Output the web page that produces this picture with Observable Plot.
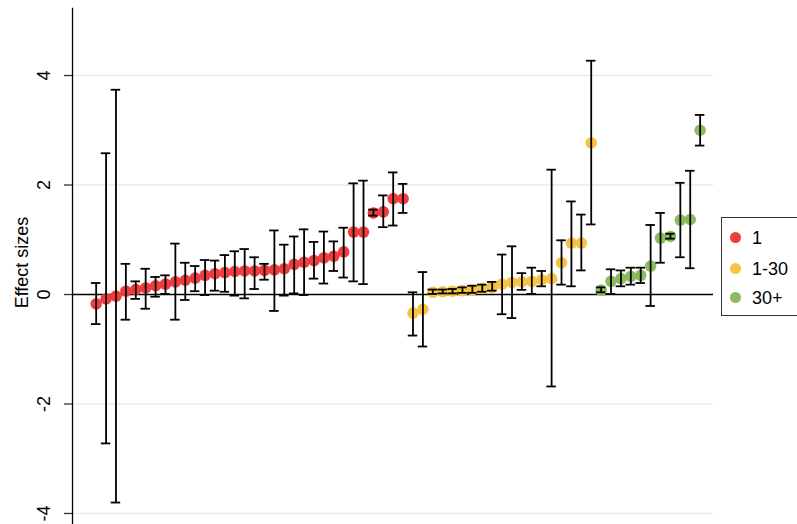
<!DOCTYPE html>
<html>
<head>
<meta charset="utf-8">
<script src="https://cdn.jsdelivr.net/npm/d3@7"></script>
<script src="https://cdn.jsdelivr.net/npm/@observablehq/plot@0.6"></script>
<style>
  html, body { margin: 0; padding: 0; background: #fff; }
  #wrap { position: relative; width: 797px; height: 524px; overflow: hidden; font-family: Arial, "Liberation Sans", sans-serif; }
  #legend { position: absolute; left: 721px; top: 217px; width: 100px; height: 99px; border: 1px solid #333; box-sizing: border-box; background: #fff; }
  .item { position: absolute; left: 0; height: 20px; font-size: 18px; line-height: 20px; color: #000; }
  .sw { position: absolute; left: 8px; top: 4px; width: 11px; height: 11px; border-radius: 50%; }
  .lb { position: absolute; left: 30px; top: 0; white-space: nowrap; }
</style>
</head>
<body>
<div id="wrap"></div>
<script>
// ---- data ----
const groups = ["1", "1-30", "30+"];
const groupColors = ["#f03c3c", "#f6c343", "#8bbb5e"];

const redEst = [-0.17,-0.08,-0.03,0.06,0.09,0.12,0.16,0.19,0.23,0.26,0.30,0.35,0.38,0.40,0.42,0.43,0.43,0.44,0.45,0.47,0.55,0.59,0.62,0.67,0.70,0.78,1.14,1.14,1.49,1.51,1.75,1.75];
const redLo  = [-0.54,-2.72,-3.80,-0.46,-0.08,-0.26,-0.04,0.01,-0.46,-0.10,0.06,-0.01,0.07,0.05,-0.02,-0.07,0.10,0.27,-0.30,-0.02,0.02,-0.01,0.29,0.20,0.43,0.31,0.24,0.19,1.44,1.23,1.26,1.49];
const redHi  = [0.21,2.58,3.74,0.56,0.24,0.47,0.32,0.35,0.93,0.58,0.52,0.63,0.62,0.72,0.79,0.83,0.68,0.56,1.17,0.91,1.06,1.19,0.96,1.15,0.97,1.22,2.03,2.08,1.55,1.81,2.23,2.02];

const yelEst = [-0.34,-0.27,0.04,0.05,0.06,0.07,0.085,0.11,0.13,0.19,0.22,0.23,0.24,0.27,0.29,0.58,0.94,0.94,2.77];
const yelLo  = [-0.75,-0.95,0.01,0.02,0.02,0.03,0.03,0.05,0.07,-0.36,-0.43,0.085,0.01,0.15,-1.68,0.18,0.15,0.44,1.28];
const yelHi  = [0.04,0.41,0.09,0.09,0.10,0.13,0.16,0.18,0.23,0.73,0.88,0.39,0.49,0.43,2.28,0.99,1.70,1.46,4.27];

const grnEst = [0.08,0.24,0.29,0.33,0.35,0.52,1.03,1.06,1.36,1.37,3.00];
const grnLo  = [0.04,0.01,0.15,0.18,0.21,-0.21,0.58,1.02,0.68,0.48,2.72];
const grnHi  = [0.13,0.46,0.44,0.49,0.49,1.27,1.49,1.11,2.04,2.26,3.28];

const yTicks = [-4, -2, 0, 2, 4];
const gridTicks = [-4, -2, 2, 4];
const yLabel = "Effect sizes";

// ---- build table ----
const data = [];
[[redEst, redLo, redHi], [yelEst, yelLo, yelHi], [grnEst, grnLo, grnHi]].forEach(([e, l, h], g) => {
  e.forEach((v, k) => data.push({i: data.length, est: v, lo: l[k], hi: h[k], group: groups[g]}));
});
const capHalf = 0.48;

const chart = Plot.plot({
  width: 797,
  height: 524,
  marginLeft: 72,
  marginRight: 84,
  marginTop: 8,
  marginBottom: 0,
  style: {fontFamily: "Arial, 'Liberation Sans', sans-serif", background: "#fff"},
  x: {domain: [-2.39, 62.35], axis: null},
  y: {domain: [-4.201, 5.224], axis: null},
  color: {domain: groups, range: groupColors},
  marks: [
    Plot.gridY(gridTicks, {stroke: "#e3ecf0", strokeOpacity: 1, strokeWidth: 1.3}),
    Plot.ruleY([0], {stroke: "#000", strokeWidth: 1.5}),
    Plot.frame({anchor: "left", stroke: "#000", strokeWidth: 1.3}),
    Plot.axisY(yTicks, {tickSize: 8, tickFormat: () => "", stroke: "#333", strokeWidth: 1.3, label: null}),
    Plot.text(yTicks, {y: d => d, text: d => String(d), frameAnchor: "left", dx: -28, rotate: -90, fontSize: 18, fill: "#000", textAnchor: "middle", lineAnchor: "middle"}),
    Plot.text([yLabel], {text: d => d, frameAnchor: "left", dx: -50, dy: -4, rotate: -90, fontSize: 18, fill: "#000", textAnchor: "middle", lineAnchor: "middle"}),
    Plot.dot(data, {x: "i", y: "est", fill: "group", r: 5.8, stroke: null}),
    Plot.ruleX(data, {x: "i", y1: "lo", y2: "hi", stroke: "#000", strokeWidth: 1.8}),
    Plot.ruleY(data, {y: "lo", x1: d => d.i - capHalf, x2: d => d.i + capHalf, stroke: "#000", strokeWidth: 1.8}),
    Plot.ruleY(data, {y: "hi", x1: d => d.i - capHalf, x2: d => d.i + capHalf, stroke: "#000", strokeWidth: 1.8})
  ]
});

const wrap = document.getElementById("wrap");
wrap.appendChild(chart);

// legend
const legend = document.createElement("div");
legend.id = "legend";
const rowTops = [10, 41, 70];
groups.forEach((g, k) => {
  const it = document.createElement("div");
  it.className = "item";
  it.style.top = rowTops[k] + "px";
  it.innerHTML = `<span class="sw" style="background:${groupColors[k]}"></span><span class="lb">${g}</span>`;
  legend.appendChild(it);
});
wrap.appendChild(legend);
</script>
</body>
</html>
